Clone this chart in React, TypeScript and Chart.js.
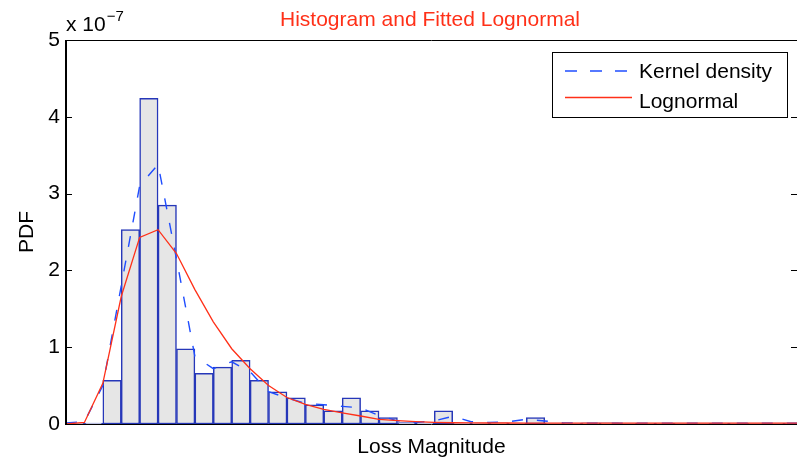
import { useEffect, useRef } from "react";
import { Chart, registerables } from "chart.js";

Chart.register(...registerables);

const FONT = "'Liberation Sans', Arial, Helvetica, sans-serif";
Chart.defaults.font.family = FONT;

// Histogram bar heights (x 1e-7), one per bin (bin index units)
const binHeights = [
  0.013, 0.013, 0.57, 2.53, 4.24, 2.85, 0.98, 0.66, 0.74, 0.83,
  0.57, 0.42, 0.34, 0.25, 0.17, 0.34, 0.17, 0.083, 0.02, 0.013,
  0.17, 0.013, 0.013, 0.015, 0.013, 0.083, 0.013, 0.013, 0.015, 0.015,
  0.013, 0.013, 0.013, 0.013, 0.013, 0.013, 0.013, 0.013, 0.013, 0.013,
];

// Kernel density estimate evaluated at the bin edges
const kernelDensity = [
  0.015, 0.03, 0.5, 1.8, 3.1, 3.38, 2.15, 0.88, 0.72, 0.81,
  0.68, 0.42, 0.34, 0.27, 0.25, 0.23, 0.21, 0.11, 0.04, 0.02,
  0.04, 0.1, 0.03, 0.02, 0.03, 0.06, 0.04, 0.015, 0.01, 0.01,
  0.01, 0.01, 0.01, 0.01, 0.01, 0.01, 0.01, 0.01, 0.01, 0.01, 0.01,
];

// Fitted lognormal pdf evaluated at the bin edges
const lognormalFit = [
  0.0, 0.02, 0.53, 1.66, 2.43, 2.53, 2.22, 1.75, 1.33, 0.98,
  0.72, 0.5, 0.345, 0.255, 0.19, 0.145, 0.104, 0.06, 0.043, 0.03,
  0.022, 0.016, 0.014, 0.013, 0.013, 0.012, 0.012, 0.012, 0.012, 0.012,
  0.012, 0.012, 0.012, 0.012, 0.012, 0.012, 0.012, 0.012, 0.012, 0.012, 0.012,
];

const yTicks = [0, 1, 2, 3, 4, 5];
const X_MAX = 39.7;

const RED = "#ff3018";
const BLUE = "#1f4dff";
const EDGE = "rgb(38,55,185)";

export default function App() {
  const ref = useRef<HTMLCanvasElement>(null);

  useEffect(() => {
    if (!ref.current) return;
    const bars = binHeights.map((v, i) => ({ x: i + 0.5, y: v }));
    const kd = kernelDensity.map((v, i) => ({ x: i, y: v }));
    const ln = lognormalFit.map((v, i) => ({ x: i, y: v }));

    const frame = {
      id: "frame",
      beforeDatasetsDraw(chart: any) {
        const { ctx, chartArea } = chart;
        ctx.save();
        ctx.strokeStyle = "#000";
        ctx.lineWidth = 1;
        ctx.beginPath();
        ctx.moveTo(chartArea.left, chartArea.bottom + 0.5);
        ctx.lineTo(chartArea.right, chartArea.bottom + 0.5);
        ctx.stroke();
        ctx.restore();
      },
      afterDatasetsDraw(chart: any) {
        const { ctx, chartArea } = chart;
        const ys = chart.scales.y;
        const L = chartArea.left;
        const R = chartArea.right;
        ctx.save();
        ctx.strokeStyle = "#000";
        // left axis
        ctx.lineWidth = 2;
        ctx.beginPath();
        ctx.moveTo(L, chartArea.top);
        ctx.lineTo(L, chartArea.bottom + 1);
        ctx.stroke();
        // top border
        ctx.lineWidth = 1;
        ctx.beginPath();
        ctx.moveTo(L, chartArea.top + 0.5);
        ctx.lineTo(R, chartArea.top + 0.5);
        ctx.stroke();
        // inward ticks
        ctx.beginPath();
        for (const v of yTicks) {
          const y = Math.round(ys.getPixelForValue(v)) + 0.5;
          ctx.moveTo(L, y);
          ctx.lineTo(L + 6, y);
          ctx.moveTo(R - 6, y);
          ctx.lineTo(R, y);
        }
        ctx.stroke();

        // legend
        const bx = 552, by = 52, bw = 236, bh = 66;
        ctx.fillStyle = "#fff";
        ctx.fillRect(bx, by, bw, bh);
        ctx.strokeStyle = "#000";
        ctx.lineWidth = 1;
        ctx.strokeRect(bx + 0.5, by + 0.5, bw - 1, bh - 1);
        ctx.lineWidth = 1.4;
        ctx.strokeStyle = BLUE;
        ctx.setLineDash([12, 13]);
        ctx.beginPath();
        ctx.moveTo(565, 71);
        ctx.lineTo(631, 71);
        ctx.stroke();
        ctx.setLineDash([]);
        ctx.strokeStyle = RED;
        ctx.beginPath();
        ctx.moveTo(565, 97.5);
        ctx.lineTo(632, 97.5);
        ctx.stroke();
        ctx.fillStyle = "#000";
        ctx.font = `21px ${FONT}`;
        ctx.textAlign = "left";
        ctx.textBaseline = "alphabetic";
        ctx.fillText("Kernel density", 639, 78);
        ctx.fillText("Lognormal", 639, 107.5);

        // title
        ctx.fillStyle = RED;
        ctx.textAlign = "center";
        ctx.fillText("Histogram and Fitted Lognormal", 430, 26);

        // exponent label
        ctx.fillStyle = "#000";
        ctx.textAlign = "left";
        ctx.font = `21px ${FONT}`;
        const base = "x 10";
        ctx.fillText(base, 66, 31);
        const w = ctx.measureText(base).width;
        ctx.font = `15px ${FONT}`;
        ctx.fillText("\u22127", 66 + w + 1, 21);
        ctx.restore();
      },
    };

    const chart = new Chart(ref.current, {
      type: "bar",
      data: {
        datasets: [
          {
            type: "line",
            label: "Lognormal",
            data: ln,
            borderColor: RED,
            borderWidth: 1.3,
            pointRadius: 0,
            fill: false,
            tension: 0,
            order: 0,
          } as any,
          {
            type: "line",
            label: "Kernel density",
            data: kd,
            borderColor: BLUE,
            borderWidth: 1.4,
            borderDash: [11, 14],
            pointRadius: 0,
            fill: false,
            tension: 0,
            order: 1,
          } as any,
          {
            type: "bar",
            label: "Histogram",
            data: bars,
            backgroundColor: "#e6e6e6",
            borderColor: EDGE,
            borderWidth: 1.5,
            borderSkipped: false,
            barPercentage: 1,
            categoryPercentage: 1,
            order: 2,
          } as any,
        ],
      },
      options: {
        responsive: false,
        animation: false,
        layout: { padding: { top: 40, left: 0, right: 0, bottom: 0 } },
        plugins: {
          legend: { display: false },
          title: { display: false },
          tooltip: { enabled: false },
        },
        scales: {
          x: {
            type: "linear",
            min: 0,
            max: X_MAX,
            offset: false,
            grid: { display: false, drawTicks: false },
            border: { display: false },
            ticks: { display: false },
            title: {
              display: true,
              text: "Loss Magnitude",
              color: "#000",
              font: { family: FONT, size: 21 },
              padding: { top: 0, bottom: 6 },
            },
            afterFit(s: any) {
              s.height = 42;
            },
          },
          y: {
            min: 0,
            max: 5,
            ticks: {
              stepSize: 1,
              color: "#000",
              font: { family: FONT, size: 21 },
              padding: 6,
            },
            grid: { display: false, drawTicks: false },
            border: { display: false },
            title: {
              display: true,
              text: "PDF",
              color: "#000",
              font: { family: FONT, size: 21 },
              padding: { top: 15, bottom: 0 },
            },
            afterFit(s: any) {
              s.width = 66;
            },
          },
        } as any,
      },
      plugins: [frame],
    });
    return () => chart.destroy();
  }, []);

  return (
    <canvas
      ref={ref}
      width={797}
      height={466}
      style={{ position: "absolute", left: 0, top: 0, display: "block" }}
    />
  );
}
